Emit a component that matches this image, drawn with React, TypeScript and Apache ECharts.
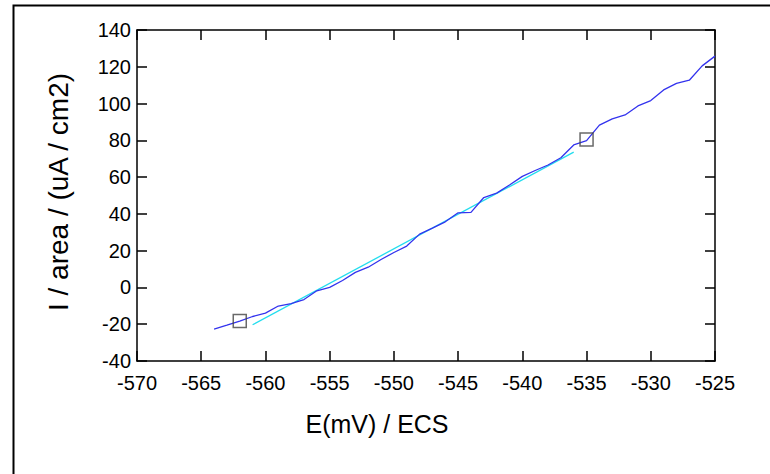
import React, { useEffect, useRef } from "react";
import * as echarts from "echarts";

const blueX = [-564, -563, -562, -561, -560, -559, -558, -557, -556, -555, -554, -553, -552, -551, -550, -549, -548, -547, -546, -545, -544, -543, -542, -541, -540, -539, -538, -537, -536, -535, -534, -533, -532, -531, -530, -529, -528, -527, -526, -525];
const blueY = [-22.6, -20.5, -18.3, -15.8, -14.0, -10.1, -8.8, -6.6, -1.8, 0.0, 3.8, 8.2, 11.0, 15.2, 19.0, 22.5, 29.0, 32.3, 35.7, 40.6, 40.8, 48.9, 51.3, 55.7, 60.4, 63.6, 66.6, 70.5, 77.5, 79.8, 88.3, 91.7, 93.8, 98.7, 101.6, 107.4, 111.0, 112.7, 120.5, 125.8];
const fitX = [-561, -536];
const fitY = [-20.3, 73.6];
const markerX = [-562, -535];
const markerY = [-18.2, 80.5];

const xTicks = { min: -570, max: -525, interval: 5 };
const yTicks = { min: -40, max: 140, interval: 20 };

const FONT = 'Arial, "Liberation Sans", sans-serif';

export default function App() {
  const ref = useRef<HTMLDivElement>(null);
  useEffect(() => {
    if (!ref.current) return;
    const chart = echarts.init(ref.current, null, { renderer: "svg" });
    const zip = (xs: number[], ys: number[]) => xs.map((x, i) => [x, ys[i]]);
    const axisLine = { show: true, onZero: false, lineStyle: { color: "#000", width: 1.5 } };
    const axisTick = { show: true, inside: true, length: 10, lineStyle: { color: "#000", width: 1.5 } };
    chart.setOption({
      animation: false,
      backgroundColor: "#fff",
      grid: { left: 137, right: 55, top: 30, bottom: 113, containLabel: false },
      xAxis: [
        {
          type: "value", position: "bottom", ...xTicks,
          axisLine, axisTick, splitLine: { show: false },
          axisLabel: { color: "#000", fontSize: 20, fontFamily: FONT, margin: 12 },
        },
        {
          type: "value", position: "top", ...xTicks,
          axisLine, axisTick, splitLine: { show: false },
          axisLabel: { show: false },
        },
      ],
      yAxis: [
        {
          type: "value", position: "left", ...yTicks,
          axisLine, axisTick, splitLine: { show: false },
          axisLabel: { color: "#000", fontSize: 20, fontFamily: FONT, margin: 6 },
        },
        {
          type: "value", position: "right", ...yTicks,
          axisLine, axisTick, splitLine: { show: false },
          axisLabel: { show: false },
        },
      ],
      graphic: [
        {
          type: "rect", left: 11, top: 3, silent: true,
          shape: { x: 0, y: 0, width: 800, height: 500 },
          style: { fill: "none", stroke: "#000", lineWidth: 2 },
        },
        {
          type: "text", x: 58, y: 192, rotation: Math.PI / 2, silent: true,
          style: {
            text: "I / area / (uA / cm2)", fontSize: 28, fontFamily: FONT,
            fill: "#000", align: "center", verticalAlign: "middle",
          },
        },
        {
          type: "text", x: 377, y: 424, silent: true,
          style: {
            text: "E(mV) / ECS", fontSize: 25, fontFamily: FONT,
            fill: "#000", align: "center", verticalAlign: "middle",
          },
        },
      ],
      series: [
        {
          type: "line", data: zip(fitX, fitY), showSymbol: false, symbol: "none",
          lineStyle: { color: "#22ddee", width: 1.3 }, z: 2,
        },
        {
          type: "line", data: zip(blueX, blueY), showSymbol: false, symbol: "none",
          lineStyle: { color: "#3333ee", width: 1.3 }, z: 3,
        },
        {
          type: "scatter", data: zip(markerX, markerY), symbol: "rect", symbolSize: 13,
          itemStyle: { color: "rgba(0,0,0,0)", borderColor: "#444", borderWidth: 1.5 }, z: 4,
        },
      ],
    });
    return () => chart.dispose();
  }, []);
  return (
    <div
      ref={ref}
      style={{ position: "fixed", left: 0, top: 0, width: 770, height: 474 }}
    />
  );
}
